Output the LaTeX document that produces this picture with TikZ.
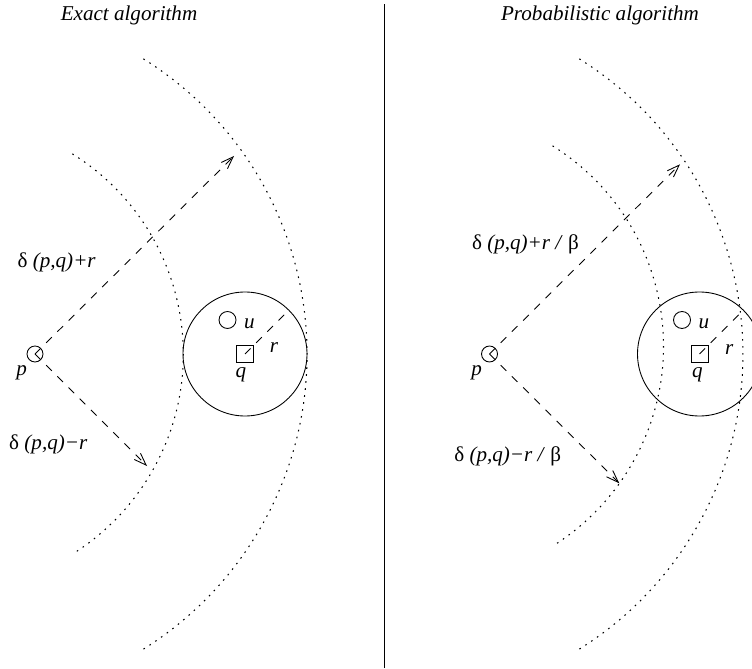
\documentclass[12pt,tikz,border=0pt]{standalone}
\usepackage{fontspec}
\setmainfont{Liberation Serif}
\usetikzlibrary{arrows.meta}

\begin{document}
\begin{tikzpicture}[
  line width=0.5pt,
  ptmark/.style={draw,circle,minimum size=0.32cm,inner sep=0pt,outer sep=0pt},
  qmark/.style={draw,rectangle,minimum size=0.34cm,inner sep=0pt,outer sep=0pt},
  ball/.style={draw,circle,minimum size=2.48cm,inner sep=0pt,outer sep=0pt},
  reach/.style={dash pattern=on 4.5pt off 4.5pt,-{Straight Barb[length=7pt,width=5pt]}},
  radline/.style={dash pattern=on 4.5pt off 4.5pt},
  ring/.style={line width=0.6pt,dash pattern=on 0.9pt off 3.1pt},
  tag/.style={font=\itshape,inner sep=1pt}
]
  \clip (0,0) rectangle (15.04,13.36);
  \draw (7.68,0) -- (7.68,13.28);

  % Exact algorithm
  \begin{scope}[shift={(0,0)}]
    \node[tag] (titleL) at (2.58,13.06) {Exact algorithm};
    \draw[ring] (-1.054,6.28) ++(58:4.72) arc[start angle=58,end angle=-58,radius=4.72];
    \draw[ring] (-0.82,6.28) ++(58:6.96) arc[start angle=58,end angle=-58,radius=6.96];
    \node[ptmark] (pL) at (0.70,6.28) {};
    \node[qmark] (qL) at (4.90,6.28) {};
    \node[ball] (bL) at (qL) {};
    \node[ptmark,minimum size=0.34cm] (uL) at (4.55,6.96) {};
    \coordinate (farL) at (4.68,10.24);
    \coordinate (nearL) at (2.94,4.04);
    \draw[reach] (pL.center) -- (farL);
    \draw[reach] (pL.center) -- (nearL);
    \draw[radline] (qL.center) -- (bL.45);
    \node (plusL) at (1.134,8.12) {δ \textit{(p,q)+r}};
    \node (minusL) at (0.966,4.48) {δ \textit{(p,q)−r}};
    \node[tag] (pLabL) at (0.434,5.90) {p};
    \node[tag] (uLabL) at (4.986,6.88) {u};
    \node[tag] (qLabL) at (4.82,5.86) {q};
    \node[tag] (rLabL) at (5.48,6.40) {r};
  \end{scope}

  % Probabilistic algorithm
  \begin{scope}[shift={(9.09,0)}]
    \node[tag] (titleR) at (2.91,13.06) {Probabilistic algorithm};
    \draw[ring] (-0.54,6.44) ++(58:4.72) arc[start angle=58,end angle=-58,radius=4.72];
    \draw[ring] (-1.192,6.28) ++(58:6.96) arc[start angle=58,end angle=-58,radius=6.96];
    \node[ptmark] (pR) at (0.70,6.28) {};
    \node[qmark] (qR) at (4.90,6.28) {};
    \node[ball] (bR) at (qR) {};
    \node[ptmark,minimum size=0.34cm] (uR) at (4.55,6.96) {};
    \coordinate (farR) at (4.51,10.074);
    \coordinate (nearR) at (3.296,3.694);
    \draw[reach] (pR.center) -- (farR);
    \draw[reach] (pR.center) -- (nearR);
    \draw[radline] (qR.center) -- (bR.45);
    \node (plusR) at (1.42,8.48) {δ \textit{(p,q)+r / }β};
    \node (minusR) at (1.064,4.24) {δ \textit{(p,q)−r / }β};
    \node[tag] (pLabR) at (0.444,5.90) {p};
    \node[tag] (uLabR) at (4.99,6.894) {u};
    \node[tag] (qLabR) at (4.856,5.86) {q};
    \node[tag] (rLabR) at (5.496,6.36) {r};
  \end{scope}
\end{tikzpicture}
\end{document}
